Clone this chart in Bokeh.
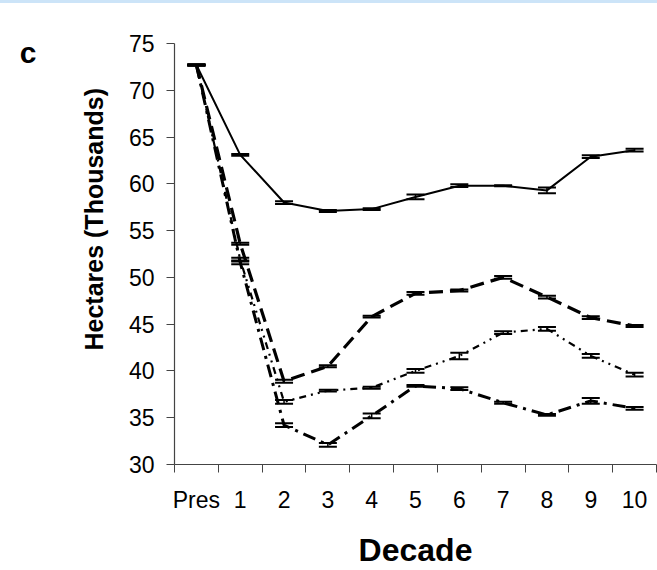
from bokeh.plotting import figure
from bokeh.models import FixedTicker, Whisker, TeeHead, ColumnDataSource, Div, LinearAxis
from bokeh.layouts import column
from bokeh.embed import file_html
from bokeh.resources import INLINE

decades = ["Pres", "1", "2", "3", "4", "5", "6", "7", "8", "9", "10"]
y_ticks = [30, 35, 40, 45, 50, 55, 60, 65, 70, 75]

solid_vals = [72.7, 63.1, 58.0, 57.1, 57.3, 58.6, 59.8, 59.8, 59.3, 62.9, 63.6]
solid_err = [0.05, 0.1, 0.15, 0.1, 0.1, 0.25, 0.15, 0.05, 0.3, 0.15, 0.15]

longdash_vals = [72.7, 53.6, 38.9, 40.5, 45.8, 48.3, 48.6, 50.0, 47.9, 45.7, 44.8]
longdash_err = [0.05, 0.1, 0.15, 0.1, 0.1, 0.15, 0.1, 0.15, 0.15, 0.15, 0.1]

dashdotdot_vals = [72.7, 51.9, 36.7, 37.9, 38.2, 40.0, 41.6, 44.1, 44.5, 41.6, 39.6]
dashdotdot_err = [0.05, 0.2, 0.2, 0.1, 0.1, 0.2, 0.35, 0.15, 0.2, 0.2, 0.2]

dashdot_vals = [72.7, 51.6, 34.2, 32.1, 35.2, 38.4, 38.1, 36.6, 35.3, 36.8, 36.0]
dashdot_err = [0.05, 0.2, 0.2, 0.2, 0.25, 0.1, 0.15, 0.1, 0.1, 0.3, 0.15]

panel_letter = "c"
y_title = "Hectares (Thousands)"
x_title = "Decade"

FONT = "Liberation Sans"

x = list(range(len(decades)))

p = figure(width=657, height=567, x_range=(-0.5, len(decades) - 0.5), y_range=(30, 75),
           output_backend="svg", toolbar_location=None,
           min_border_left=174, min_border_right=1, min_border_top=40, min_border_bottom=104)
p.outline_line_color = None
p.grid.visible = False
p.background_fill_color = "white"
p.border_fill_color = "white"

series = [
    (solid_vals, solid_err, 2, "solid"),
    (longdash_vals, longdash_err, 3.2, "14 7"),
    (dashdotdot_vals, dashdotdot_err, 2.2, "7 5 2 5 2 5"),
    (dashdot_vals, dashdot_err, 3, "13 6 3 6"),
]
for vals, err, lw, dash in series:
    src = ColumnDataSource(dict(x=x, y=vals,
                                upper=[v + e for v, e in zip(vals, err)],
                                lower=[v - e for v, e in zip(vals, err)]))
    p.line("x", "y", source=src, line_width=lw, line_color="black", line_dash=dash)
    w = Whisker(base="x", upper="upper", lower="lower", source=src, line_width=1.5,
                line_color="black",
                upper_head=TeeHead(size=18, line_width=2, line_color="black"),
                lower_head=TeeHead(size=18, line_width=2, line_color="black"))
    p.add_layout(w)

# x axis
p.xaxis.ticker = FixedTicker(ticks=x, minor_ticks=[i - 0.5 for i in range(len(decades) + 1)])
p.xaxis.major_label_overrides = {i: d for i, d in zip(x, decades)}
p.xaxis.major_tick_out = 0
p.xaxis.major_tick_in = 0
p.xaxis.minor_tick_out = 8
p.xaxis.minor_tick_in = 0
p.xaxis.major_label_standoff = 14
p.xaxis.axis_label = x_title
p.xaxis.axis_label_text_font_size = "32px"
p.xaxis.axis_label_standoff = 16

# y axis (leading no-break spaces move the centred title upward, as in the reference)
p.yaxis.ticker = FixedTicker(ticks=y_ticks)
p.yaxis.major_tick_out = 8
p.yaxis.major_tick_in = 0
p.yaxis.minor_tick_line_color = None
p.yaxis.major_label_standoff = 12
p.yaxis.axis_label = "\u00a0" * 10 + y_title
p.yaxis.axis_label_text_font_size = "25px"
p.yaxis.axis_label_standoff = 18

for ax in (p.xaxis[0], p.yaxis[0]):
    ax.axis_line_color = "#444444"
    ax.axis_line_width = 1.2
    ax.major_tick_line_color = "#444444"
    ax.minor_tick_line_color = "#444444" if ax is p.xaxis[0] else None
    ax.major_label_text_font = FONT
    ax.major_label_text_font_size = "23px"
    ax.major_label_text_color = "black"
    ax.axis_label_text_font = FONT
    ax.axis_label_text_font_style = "bold"
    ax.axis_label_text_color = "black"

# panel letter "c" as an extra label-only axis on the far left
c_axis = LinearAxis(ticker=FixedTicker(ticks=[74]), major_label_overrides={74: panel_letter},
                    axis_line_color=None, major_tick_line_color=None, minor_tick_line_color=None,
                    major_tick_out=0, major_tick_in=0, major_label_standoff=40,
                    major_label_text_font=FONT, major_label_text_font_style="bold",
                    major_label_text_font_size="30px", major_label_text_color="black")
p.add_layout(c_axis, "left")

band = Div(text="", width=657, height=3, margin=0, styles={"background-color": "#cce4f8"})
layout = column(band, p, spacing=0, margin=0)

open("out.html", "w").write(file_html(layout, INLINE))
